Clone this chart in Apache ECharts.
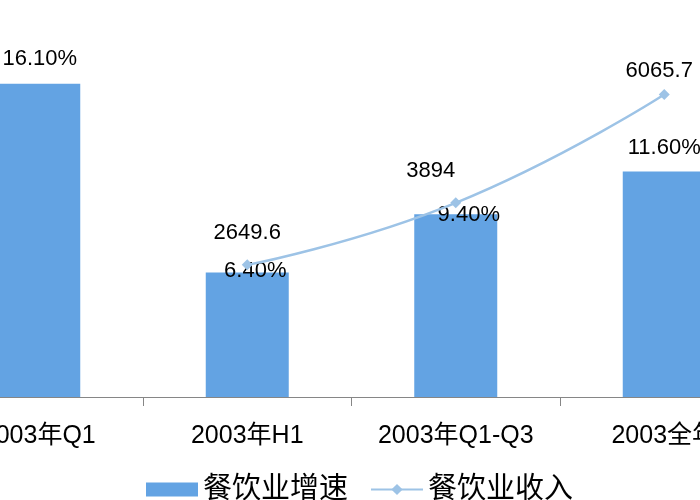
<!DOCTYPE html>
<html>
<head>
<meta charset="utf-8">
<script src="https://cdn.jsdelivr.net/npm/echarts@6/dist/echarts.min.js"></script>
<style>
html,body{margin:0;padding:0;background:#fff;}
#chart{width:700px;height:500px;}
</style>
</head>
<body>
<div id="chart"></div>
<script>
const categories = ['2003年Q1', '2003年H1', '2003年Q1-Q3', '2003全年'];
const growthRates = [16.1, 6.4, 9.4, 11.6];
const revenue = [null, 2649.6, 3894, 6065.7];
const seriesNames = ['餐饮业增速', '餐饮业收入'];

const FONT = "'Liberation Sans', 'Noto Sans CJK SC', sans-serif";
// label nudges (style only)
const barLabelOffsets = [[1, -14], [8, 9], [13, 12], [0, -12]];
const lineLabelOffsets = [[0, 0], [0, -15], [-25, -15], [-5, -7]];

const barData = growthRates.map((v, i) => ({
  value: v,
  label: { offset: barLabelOffsets[i] }
}));
const lineData = revenue.map((v, i) => ({
  value: v,
  label: { offset: lineLabelOffsets[i] }
}));

const chart = echarts.init(document.getElementById('chart'));
chart.setOption({
  animation: false,
  backgroundColor: '#ffffff',
  textStyle: { fontFamily: FONT },
  grid: { left: -65.5, right: -68.5, top: 8, bottom: 103, containLabel: false, outerBoundsMode: 'none' },
  legend: {
    top: 470,
    left: 141,
    itemWidth: 52,
    itemHeight: 14,
    itemGap: 22,
    textStyle: { fontSize: 29, color: '#000', fontFamily: FONT },
    data: [
      { name: seriesNames[0], icon: 'rect' },
      { name: seriesNames[1] }
    ]
  },
  xAxis: {
    type: 'category',
    data: categories,
    boundaryGap: true,
    axisLine: { lineStyle: { color: '#868686', width: 1 } },
    axisTick: { show: true, length: 9, lineStyle: { color: '#868686' } },
    axisLabel: { color: '#000', fontSize: 25, margin: 27, fontFamily: FONT, interval: 0 }
  },
  yAxis: [
    { type: 'value', min: 0, max: 20, show: false, splitLine: { show: false } },
    { type: 'value', min: 0, max: 7800, show: false, splitLine: { show: false } }
  ],
  series: [
    {
      name: seriesNames[0],
      type: 'bar',
      yAxisIndex: 0,
      barWidth: 83,
      itemStyle: { color: '#63A3E3' },
      label: {
        show: true,
        position: 'top',
        distance: 0,
        color: '#000',
        fontSize: 22,
        fontFamily: FONT,
        formatter: p => p.value.toFixed(2) + '%'
      },
      data: barData,
      z: 2
    },
    {
      name: seriesNames[1],
      type: 'line',
      yAxisIndex: 1,
      smooth: true,
      symbol: 'diamond',
      symbolSize: 11,
      lineStyle: { color: '#9DC3E6', width: 2.5 },
      itemStyle: { color: '#9DC3E6' },
      label: {
        show: true,
        position: 'top',
        distance: 0,
        color: '#000',
        fontSize: 22,
        fontFamily: FONT,
        formatter: p => String(p.value)
      },
      data: lineData,
      z: 3
    }
  ]
});
</script>
</body>
</html>
